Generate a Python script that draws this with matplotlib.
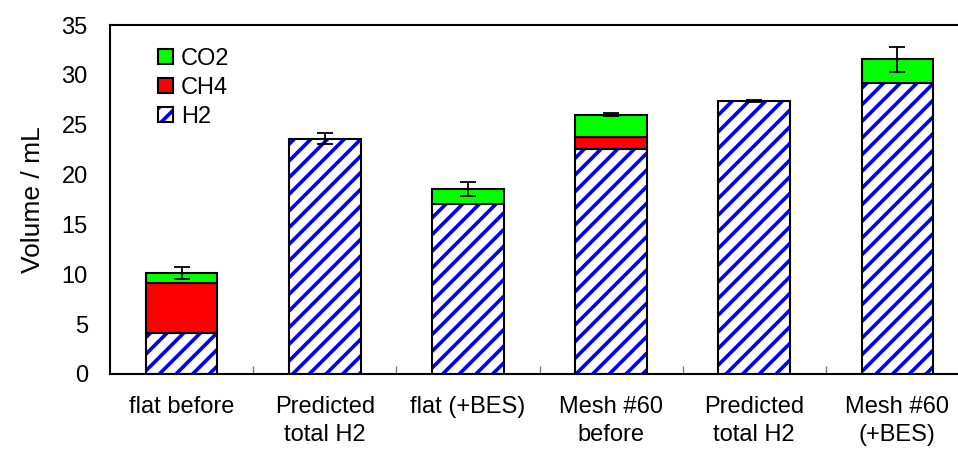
import numpy as np
import matplotlib.pyplot as plt
from matplotlib.legend_handler import HandlerTuple

plt.rcParams['font.family'] = ['Liberation Sans', 'DejaVu Sans']
plt.rcParams['hatch.linewidth'] = 2.6
plt.rcParams['hatch.color'] = '#0000ff'

labels = ['flat before', 'Predicted\ntotal H2', 'flat (+BES)',
          'Mesh #60\nbefore', 'Predicted\ntotal H2', 'Mesh #60\n(+BES)']
h2 = [4.15, 23.57, 17.0, 22.57, 27.38, 29.22]
ch4 = [4.95, 0.0, 0.0, 1.17, 0.0, 0.0]
co2 = [1.06, 0.0, 1.55, 2.24, 0.0, 2.34]
err = [0.6, 0.55, 0.7, 0.15, 0.12, 1.25]

x = np.arange(len(labels))
w = 0.5
fs = 17

fig = plt.figure(figsize=(9.58, 4.57), dpi=100)
# right edge of the frame runs off the canvas
ax = fig.add_axes([110 / 958, 1 - 374 / 457, 859 / 958, 349 / 457])

# hatched H2 part, with a separate black outline so the hatch stays blue
h2_fill = ax.bar(x, h2, w, color='white', edgecolor='#0000ff', linewidth=0,
                 hatch='//')
h2_edge = ax.bar(x, h2, w, fill=False, edgecolor='black', linewidth=1.5)

bottom2 = np.array(h2)
ch4_idx = [i for i, v in enumerate(ch4) if v > 0]
ch4_bars = ax.bar(x[ch4_idx], np.array(ch4)[ch4_idx], w, bottom=bottom2[ch4_idx],
                  color='#ff0000', edgecolor='black', linewidth=1.5)
bottom3 = bottom2 + np.array(ch4)
co2_idx = [i for i, v in enumerate(co2) if v > 0]
co2_bars = ax.bar(x[co2_idx], np.array(co2)[co2_idx], w, bottom=bottom3[co2_idx],
                  color='#00ff00', edgecolor='black', linewidth=1.5)

total = bottom3 + np.array(co2)
ax.errorbar(x, total, yerr=err, fmt='none', ecolor='black', elinewidth=1.3,
            capsize=5.5, capthick=1.3, zorder=5)

ax.set_xlim(-0.5, 5.5)
ax.set_ylim(0, 35)
ax.set_yticks(np.arange(0, 36, 5))
ax.set_xticks(x)
ax.set_xticklabels(labels, fontsize=fs, linespacing=1.35)
ax.set_xticks(x[:-1] + 0.5, minor=True)
ax.tick_params(axis='x', which='major', length=0, pad=16)
ax.tick_params(axis='x', which='minor', direction='in', length=6,
               color='#777777', width=1)
ax.tick_params(axis='y', length=0, labelsize=fs, pad=16)
ax.set_ylabel('Volume / mL', fontsize=19, labelpad=12)
for s in ax.spines.values():
    s.set_linewidth(1.5)

leg = ax.legend([co2_bars, ch4_bars, (h2_fill, h2_edge)], ['CO2', 'CH4', 'H2'],
                handler_map={tuple: HandlerTuple(ndivide=1)},
                loc='upper left', bbox_to_anchor=(0.056, 0.935), frameon=False,
                fontsize=fs, handlelength=0.62, handleheight=0.62,
                handletextpad=0.35, labelspacing=0.3, borderaxespad=0,
                borderpad=0)

fig.savefig('out.png', dpi=100)
